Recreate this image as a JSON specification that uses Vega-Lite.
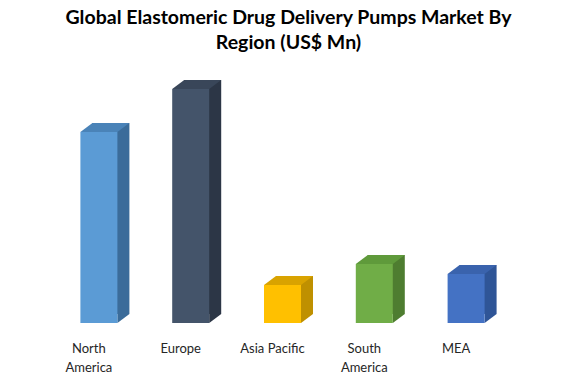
{
  "$schema": "https://vega.github.io/schema/vega-lite/v6.json",
  "autosize": {"type": "none"},
  "width": 459,
  "height": 260,
  "padding": {"left": 53, "top": 63, "right": 64, "bottom": 61},
  "background": "white",
  "view": {"stroke": null},
  "title": {
    "text": ["Global Elastomeric Drug Delivery Pumps Market By", "Region (US$ Mn)"],
    "font": "Lato",
    "fontSize": 19.5,
    "fontWeight": "bold",
    "color": "#000000",
    "anchor": "middle",
    "dx": 6,
    "offset": 10,
    "lineHeight": 25
  },
  "data": {
    "values": [
      {"region": "North America", "value": 191},
      {"region": "Europe", "value": 234},
      {"region": "Asia Pacific", "value": 38},
      {"region": "South America", "value": 59},
      {"region": "MEA", "value": 49}
    ]
  },
  "encoding": {
    "x": {
      "field": "region",
      "type": "nominal",
      "sort": null,
      "scale": {"paddingInner": 0, "paddingOuter": 0},
      "axis": {
        "title": null,
        "domain": false,
        "ticks": false,
        "grid": false,
        "labelAngle": 0,
        "labelFont": "Lato",
        "labelFontSize": 13,
        "labelColor": "#262626",
        "labelPadding": 19,
        "labelOffset": -10,
        "labelLineHeight": 19,
        "labelExpr": "datum.label == 'North America' ? ['North', 'America'] : datum.label == 'South America' ? ['South', 'America'] : datum.label"
      }
    }
  },
  "resolve": {"scale": {"color": "independent"}},
  "layer": [
    {
      "mark": {"type": "bar", "width": 37, "xOffset": 12, "yOffset": -9},
      "encoding": {
        "y": {"field": "value", "type": "quantitative", "scale": {"domain": [0, 260]}, "axis": null},
        "color": {
          "field": "region", "type": "nominal", "legend": null,
          "scale": {"domain": ["North America", "Europe", "Asia Pacific", "South America", "MEA"],
                    "range": ["#3B6C9A", "#2C3646", "#BF9000", "#4E7D30", "#2F5597"]}
        }
      }
    },
    {
      "mark": {"type": "point", "filled": true, "opacity": 1, "strokeWidth": 0, "size": 144,
               "shape": "M-1,-0.75L1,-0.75L-1,0.75Z", "xOffset": 24.5, "yOffset": -4.5},
      "encoding": {
        "y": {"datum": 0, "type": "quantitative"},
        "color": {
          "field": "region", "type": "nominal", "legend": null,
          "scale": {"domain": ["North America", "Europe", "Asia Pacific", "South America", "MEA"],
                    "range": ["#3B6C9A", "#2C3646", "#BF9000", "#4E7D30", "#2F5597"]}
        }
      }
    },
    {
      "mark": {"type": "point", "filled": true, "opacity": 1, "strokeWidth": 0, "size": 2401,
               "shape": "M-1,0.184L-0.51,-0.184L1,-0.184L0.51,0.184Z", "xOffset": 6, "yOffset": -4.5},
      "encoding": {
        "y": {"field": "value", "type": "quantitative"},
        "color": {
          "field": "region", "type": "nominal", "legend": null,
          "scale": {"domain": ["North America", "Europe", "Asia Pacific", "South America", "MEA"],
                    "range": ["#4A83B8", "#394659", "#D9A300", "#5F9A3B", "#3A63AD"]}
        }
      }
    },
    {
      "mark": {"type": "bar", "width": 37},
      "encoding": {
        "y": {"field": "value", "type": "quantitative"},
        "color": {
          "field": "region", "type": "nominal", "legend": null,
          "scale": {"domain": ["North America", "Europe", "Asia Pacific", "South America", "MEA"],
                    "range": ["#5B9BD5", "#44546A", "#FFC000", "#70AD47", "#4472C4"]}
        }
      }
    }
  ]
}
